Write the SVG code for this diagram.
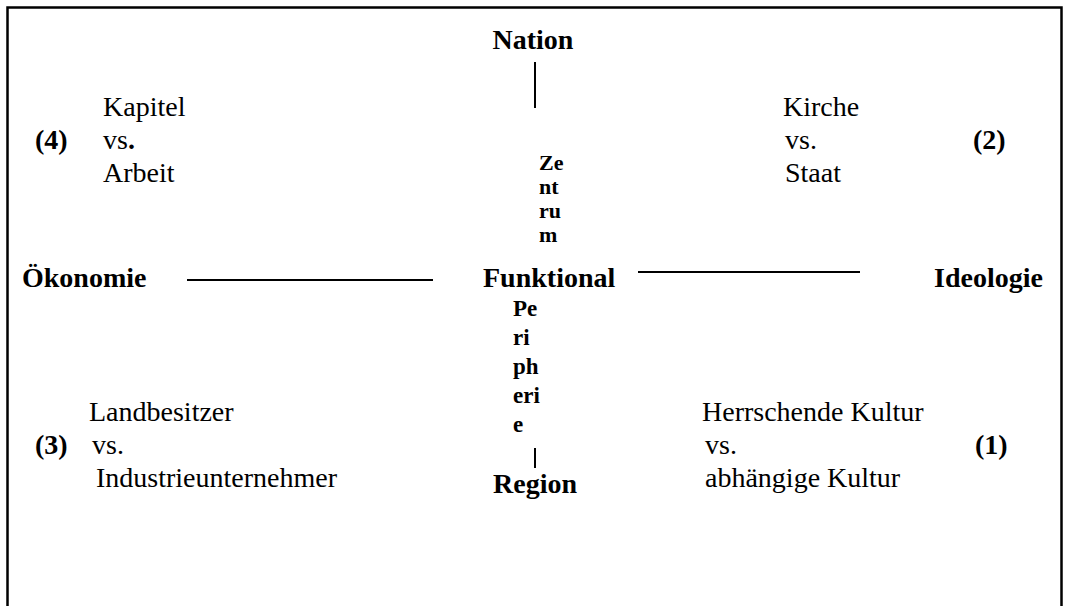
<svg xmlns="http://www.w3.org/2000/svg" width="1065" height="606" viewBox="0 0 1065 606">
<style>
text{font-family:"Liberation Serif","Times New Roman",serif;fill:#000}
.r{font-size:28px}
.b{font-size:28px;font-weight:bold}
.v{font-size:22px;font-weight:bold}
.p{font-size:23px;font-weight:bold}
.ln{stroke:#000;stroke-width:2;fill:none}
</style>
<rect x="7.5" y="7.5" width="1054" height="620" fill="#fff" stroke="#000" stroke-width="2.5"/>
<g id="connectors">
<line class="ln" x1="535" y1="62" x2="535" y2="108"/>
<line class="ln" x1="187" y1="280" x2="433" y2="280"/>
<line class="ln" x1="638" y1="272" x2="860" y2="272"/>
<line class="ln" x1="535" y1="448" x2="535" y2="468"/>
</g>
<g id="nation"><text class="b" x="533" y="49" text-anchor="middle">Nation</text></g>
<g id="zentrum">
<text class="v" x="539" y="170">Ze</text>
<text class="v" x="539" y="194">nt</text>
<text class="v" x="539" y="218">ru</text>
<text class="v" x="539" y="242">m</text>
</g>
<g id="oekonomie"><text class="b" x="22" y="287">Ökonomie</text></g>
<g id="funktional"><text class="b" x="483" y="287">Funktional</text></g>
<g id="ideologie"><text class="b" x="1043" y="287" text-anchor="end">Ideologie</text></g>
<g id="peripherie">
<text class="p" x="513" y="316">Pe</text>
<text class="p" x="513" y="345">ri</text>
<text class="p" x="513" y="374">ph</text>
<text class="p" x="513" y="403">eri</text>
<text class="p" x="513" y="432">e</text>
</g>
<g id="region"><text class="b" x="535" y="493" text-anchor="middle">Region</text></g>
<g id="q4">
<text class="b" x="35" y="149">(4)</text>
<text class="r" x="103" y="116">Kapitel</text>
<text class="r" x="103" y="149">vs<tspan font-weight="bold">.</tspan></text>
<text class="r" x="103" y="182">Arbeit</text>
</g>
<g id="q2">
<text class="r" x="783" y="116">Kirche</text>
<text class="r" x="785" y="149">vs.</text>
<text class="r" x="785" y="182">Staat</text>
<text class="b" x="973" y="149">(2)</text>
</g>
<g id="q3">
<text class="b" x="35" y="454">(3)</text>
<text class="r" x="89" y="421">Landbesitzer</text>
<text class="r" x="92" y="454">vs.</text>
<text class="r" x="96" y="487">Industrieunternehmer</text>
</g>
<g id="q1">
<text class="r" x="702" y="421">Herrschende Kultur</text>
<text class="r" x="705" y="454">vs.</text>
<text class="r" x="705" y="487">abhängige Kultur</text>
<text class="b" x="975" y="454">(1)</text>
</g>
</svg>
